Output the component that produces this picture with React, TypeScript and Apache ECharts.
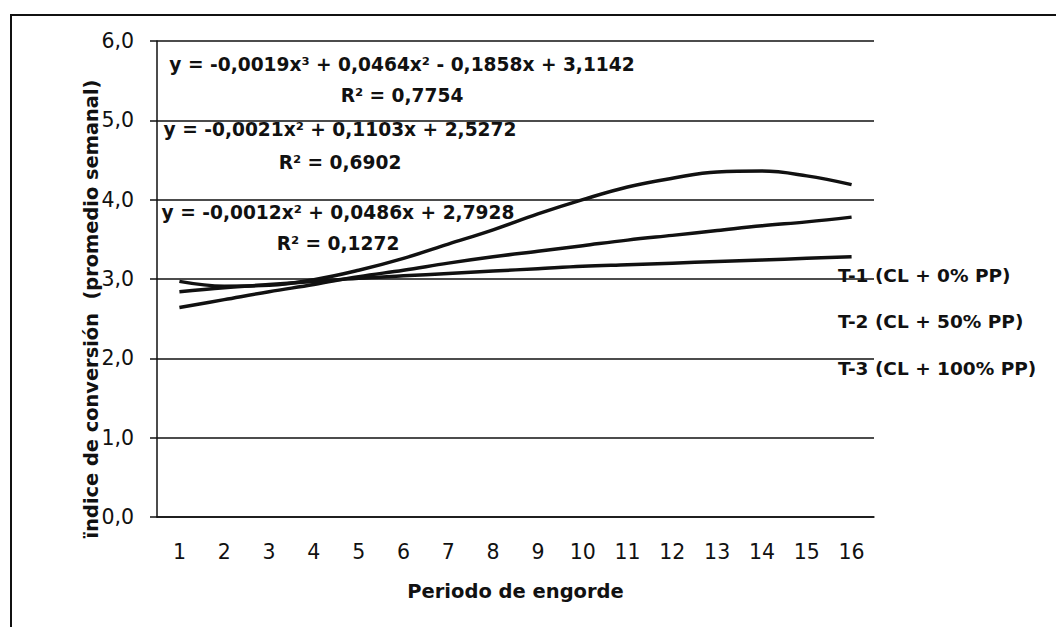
import React, { useEffect, useRef } from "react";
import * as echarts from "echarts";

const categories = ["1","2","3","4","5","6","7","8","9","10","11","12","13","14","15","16"];
const seriesNames = ["T-1 (CL + 0% PP)", "T-2 (CL + 50% PP)", "T-3 (CL + 100% PP)"];
const t1 = [2.97, 2.91, 2.92, 2.99, 3.11, 3.26, 3.44, 3.62, 3.82, 4.0, 4.16, 4.27, 4.35, 4.36, 4.3, 4.19];
const t2 = [2.64, 2.74, 2.84, 2.93, 3.03, 3.11, 3.2, 3.28, 3.35, 3.42, 3.49, 3.55, 3.61, 3.67, 3.72, 3.78];
const t3 = [2.84, 2.89, 2.93, 2.97, 3.01, 3.04, 3.07, 3.1, 3.13, 3.16, 3.18, 3.2, 3.22, 3.24, 3.26, 3.28];
const equations = [
  { eq: "y = -0,0019x³ + 0,0464x² - 0,1858x + 3,1142", r2: "R² = 0,7754" },
  { eq: "y = -0,0021x² + 0,1103x + 2,5272", r2: "R² = 0,6902" },
  { eq: "y = -0,0012x² + 0,0486x + 2,7928", r2: "R² = 0,1272" },
];
const xTitle = "Periodo de engorde";
const yTitle = "ïndice de conversión  (promedio semanal)";

const FONT = "'DejaVu Sans', sans-serif";
const INK = "#111";

export default function App() {
  const ref = useRef<HTMLDivElement>(null);
  useEffect(() => {
    document.body.style.margin = "0";
    const chart = echarts.init(ref.current!, undefined, { renderer: "svg" });
    const eqPos = [
      { cx: 402, y1: 64, y2: 95 },
      { cx: 340, y1: 129, y2: 162 },
      { cx: 338, y1: 212, y2: 243 },
    ];
    const eqGraphics: any[] = [];
    equations.forEach((e, i) => {
      eqGraphics.push({
        type: "text", x: eqPos[i].cx, y: eqPos[i].y1, z: 10,
        style: { text: e.eq, fill: INK, font: `bold 18.6px ${FONT}`, align: "center", verticalAlign: "middle" },
      });
      eqGraphics.push({
        type: "text", x: eqPos[i].cx, y: eqPos[i].y2, z: 10,
        style: { text: e.r2, fill: INK, font: `bold 18.6px ${FONT}`, align: "center", verticalAlign: "middle" },
      });
    });
    const data = [t1, t2, t3];
    chart.setOption({
      animation: false,
      backgroundColor: "#fff",
      grid: { left: 157, right: 182, top: 41, bottom: 110 },
      legend: {
        orient: "vertical",
        left: 833,
        top: 264,
        padding: 0,
        icon: "none",
        itemWidth: 0,
        itemHeight: 14,
        itemGap: 24.5,
        selectedMode: false,
        textStyle: { fontFamily: FONT, fontWeight: "bold", fontSize: 18.5, color: INK, lineHeight: 22 },
        data: seriesNames,
      },
      xAxis: {
        type: "category",
        data: categories,
        boundaryGap: true,
        axisLine: { show: true, lineStyle: { color: INK, width: 1.5 } },
        axisTick: { show: false },
        axisLabel: { fontFamily: FONT, fontSize: 20.5, color: INK, margin: 24 },
        name: xTitle,
        nameLocation: "middle",
        nameGap: 64,
        nameTextStyle: { fontFamily: FONT, fontWeight: "bold", fontSize: 19.5, color: INK },
      },
      yAxis: {
        type: "value",
        min: 0,
        max: 6,
        interval: 1,
        axisLine: { show: true, lineStyle: { color: INK, width: 1.5 } },
        axisTick: { show: true, inside: false, length: 7, lineStyle: { color: INK, width: 1.5 } },
        axisLabel: {
          fontFamily: FONT, fontSize: 20.5, color: INK, margin: 23,
          formatter: (v: number) => v.toFixed(1).replace(".", ","),
        },
        splitLine: { show: true, lineStyle: { color: INK, width: 1.5 } },
      },
      graphic: [
        {
          type: "rect", z: -1, silent: true,
          shape: { x: 11, y: 15, width: 1200, height: 800 },
          style: { fill: "none", stroke: INK, lineWidth: 2 },
        },
        {
          type: "text", x: 91, y: 309, rotation: Math.PI / 2,
          style: { text: yTitle, fill: INK, font: `bold 19.4px ${FONT}`, align: "center", verticalAlign: "middle" },
        },
        ...eqGraphics,
      ],
      series: data.map((d, i) => ({
        name: seriesNames[i],
        type: "line",
        data: d,
        smooth: 0.4,
        symbol: "none",
        lineStyle: { color: INK, width: 3.5 },
        itemStyle: { color: INK },
        z: 5,
      })),
    });
    return () => chart.dispose();
  }, []);
  return <div ref={ref} style={{ width: 1056, height: 627 }} />;
}
